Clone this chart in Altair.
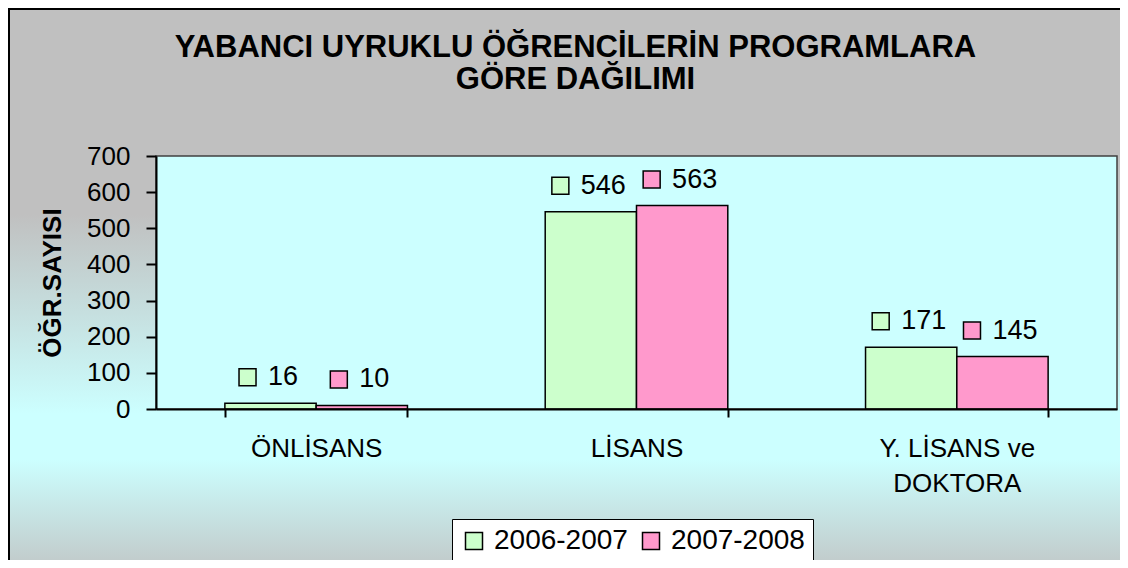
import altair as alt
import pandas as pd

# ---- data ----
categories = ["ÖNLİSANS", "LİSANS", "Y. LİSANS ve DOKTORA"]
series = ["2006-2007", "2007-2008"]
values_2006_2007 = [16, 546, 171]
values_2007_2008 = [10, 563, 145]
series_colors = ["#CCFFCC", "#FF99CC"]
y_ticks = [0, 100, 200, 300, 400, 500, 600, 700]
title_lines = ["YABANCI UYRUKLU ÖĞRENCİLERİN PROGRAMLARA", "GÖRE DAĞILIMI"]
y_title = "ÖĞR.SAYISI"

rows = []
for c, v in zip(categories, values_2006_2007):
    rows.append({"cat": c, "series": series[0], "value": v})
for c, v in zip(categories, values_2007_2008):
    rows.append({"cat": c, "series": series[1], "value": v})
df = pd.DataFrame(rows)

FONT = "Liberation Sans"
W, H = 961, 253
GRAY = "#C0C0C0"
CYAN = "#CCFFFF"

one = pd.DataFrame({"k": [0]})

# chart background with vertical gradient and outer frame
bg = alt.Chart(one).mark_rect(
    fill=alt.LinearGradient(
        gradient="linear",
        stops=[
            alt.GradientStop(color=GRAY, offset=0),
            alt.GradientStop(color=GRAY, offset=0.36),
            alt.GradientStop(color=CYAN, offset=0.71),
            alt.GradientStop(color=CYAN, offset=0.79),
            alt.GradientStop(color="#C0C3C3", offset=1),
        ],
        x1=0, x2=0, y1=0, y2=1,
    ),
    stroke="black",
    strokeWidth=2,
).encode(
    x=alt.value(-147), x2=alt.value(W + 20),
    y=alt.value(-147), y2=alt.value(H + 170),
)

# plot area
plotbg = alt.Chart(one).mark_rect(
    fill=CYAN, stroke="#404040", strokeWidth=1.5
).encode(
    x=alt.value(0), x2=alt.value("width"),
    y=alt.value(0), y2=alt.value("height"),
)

x_axis = alt.Axis(
    title=None, labelAngle=0, labelFont=FONT, labelFontSize=26,
    labelColor="black", labelPadding=18, labelBaseline="top",
    labelLineHeight=35, labelLimit=0,
    labelExpr="datum.label == 'Y. LİSANS ve DOKTORA' ? ['Y. LİSANS ve', 'DOKTORA'] : datum.label",
    tickSize=8, tickWidth=2, tickColor="black", tickBand="extent",
    domainColor="black", domainWidth=2, grid=False, zindex=1,
)
x_enc = alt.X(
    "cat:N", sort=categories,
    scale=alt.Scale(paddingInner=0.43, paddingOuter=0.215),
    axis=x_axis,
)
y_axis = alt.Axis(
    title=y_title, values=y_ticks, grid=False, labelOverlap=False,
    labelFont=FONT, labelFontSize=26, labelColor="black", labelPadding=16,
    tickSize=10, tickWidth=2, tickColor="black",
    domainColor="black", domainWidth=2,
    titleFont=FONT, titleFontSize=26, titleFontWeight="bold", titleColor="black",
    titleX=-104, titleY=126.5, titleAngle=270, titleAlign="center",
    titleBaseline="middle", zindex=1,
)
y_enc = alt.Y(
    "value:Q",
    scale=alt.Scale(domain=[0, 700], nice=False),
    axis=y_axis,
)
color_enc = alt.Color(
    "series:N",
    scale=alt.Scale(domain=series, range=series_colors),
    legend=alt.Legend(
        title=None, orient="none", legendX=296, legendY=363,
        direction="horizontal", symbolType="square", symbolSize=289,
        symbolStrokeColor="black", symbolStrokeWidth=1.5, symbolOpacity=1,
        labelFont=FONT, labelFontSize=28, labelColor="black",
        fillColor="white", strokeColor="black", padding=8,
        columnPadding=9, labelOffset=6, zindex=1,
    ),
)

bars = alt.Chart(df).mark_bar(stroke="black", strokeWidth=1.5, opacity=1).encode(
    x=x_enc,
    xOffset=alt.XOffset("series:N", sort=series,
                        scale=alt.Scale(paddingInner=0, paddingOuter=0)),
    y=y_enc,
    color=color_enc,
)


def key_squares(filter_expr, offset_range):
    # small legend-key squares placed left of each value label
    return alt.Chart(df).transform_filter(filter_expr).mark_point(
        shape="square", filled=True, size=289, stroke="black", strokeWidth=1.5,
        opacity=1, yOffset=-26,
    ).encode(
        x=x_enc,
        xOffset=alt.XOffset("series:N", sort=series,
                            scale=alt.Scale(type="point", range=offset_range, padding=0)),
        y=y_enc,
        color=color_enc,
    )


# labels with 3 digits are wider, so their key square sits further left
squares_wide = key_squares("datum.value >= 100", [15.15, 106.45])
squares_narrow = key_squares("datum.value < 100", [22.65, 113.95])

labels = alt.Chart(df).mark_text(
    align="center", baseline="middle", dx=12.5, dy=-26,
    font=FONT, fontSize=27, color="black",
).encode(
    x=x_enc,
    xOffset=alt.XOffset("series:N", sort=series,
                        scale=alt.Scale(type="point", range=[45.65, 136.95], padding=0)),
    y=y_enc,
    text=alt.Text("value:Q"),
)

chart = alt.layer(bg, plotbg, bars, squares_wide, squares_narrow, labels).resolve_scale(
    xOffset="independent"
).properties(
    width=W, height=H,
    title=alt.TitleParams(
        text=title_lines, font=FONT, fontSize=31, fontWeight="bold", color="black",
        anchor="middle", frame="group", dx=-61, offset=-88, lineHeight=32, zindex=1,
    ),
    padding={"left": 148, "top": 148, "right": 3, "bottom": 151},
    autosize=alt.AutoSizeParams(type="none"),
    background="white",
).configure_view(strokeWidth=0)

chart.save("out.html", embed_options={"renderer": "svg", "actions": False})
